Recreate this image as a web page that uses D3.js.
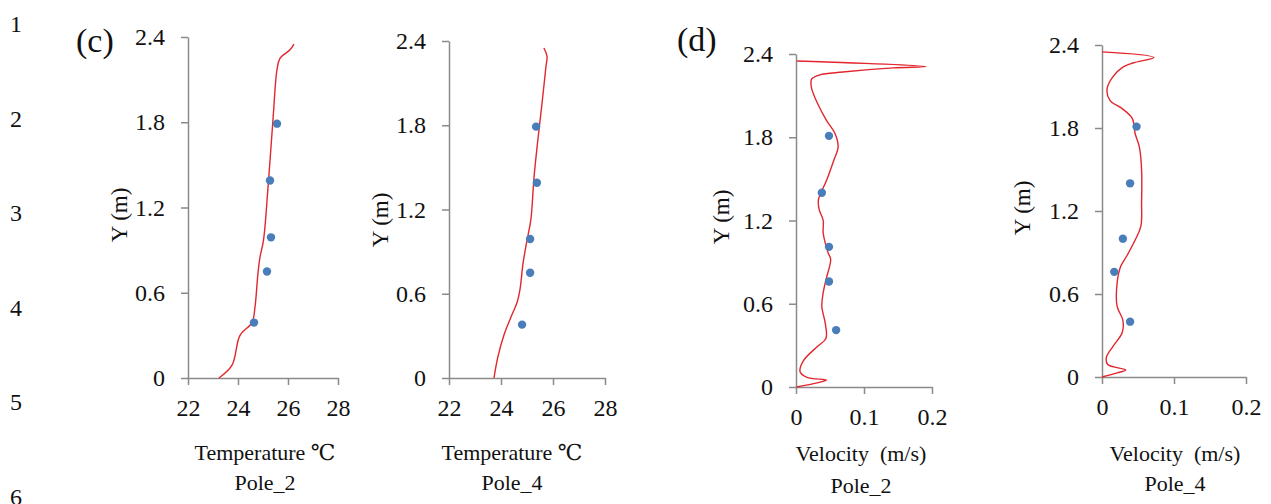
<!DOCTYPE html>
<html>
<head>
<meta charset="utf-8">
<script src="https://cdn.jsdelivr.net/npm/d3@7"></script>
<style>
  body { margin: 0; background: #fff; }
  .axis path, .axis line { stroke: #8a8a8a; stroke-width: 1.5; }
</style>
</head>
<body>
<div id="chart-container"></div>
<script>
const serif = "'Liberation Serif', 'DejaVu Serif', serif";

// Line numbers down the left margin
const lineNumbers = ["1", "2", "3", "4", "5", "6"];

// Tick labels
const yTicks = [0, 0.6, 1.2, 1.8, 2.4];
const tempTicks = [22, 24, 26, 28];
const velTicks = [0, 0.1, 0.2];

// (c) Temperature, Pole_2 : simulated profile
const tempP2LineY = [0, 0.09, 0.30, 0.39, 0.50, 0.74, 0.85, 0.97, 1.34, 1.82, 2.17, 2.25, 2.31, 2.35];
const tempP2LineT = [23.24, 23.76, 24.08, 24.56, 24.68, 24.80, 24.88, 25.02, 25.20, 25.40, 25.56, 25.68, 26.08, 26.24];
// measured points
const tempP2DotY = [1.79, 1.39, 0.99, 0.75, 0.39];
const tempP2DotT = [25.56, 25.28, 25.32, 25.16, 24.64];

// (c) Temperature, Pole_4
const tempP4LineY = [0, 0.15, 0.31, 0.45, 0.54, 0.63, 0.82, 0.98, 1.13, 1.43, 1.70, 1.96, 2.22, 2.29, 2.35];
const tempP4LineT = [23.73, 23.88, 24.12, 24.42, 24.62, 24.73, 24.85, 25.00, 25.15, 25.27, 25.42, 25.58, 25.73, 25.77, 25.65];
const tempP4DotY = [1.79, 1.39, 0.99, 0.75, 0.38];
const tempP4DotT = [25.35, 25.38, 25.12, 25.12, 24.81];

// (d) Velocity, Pole_2
const velP2LineY = [2.35, 2.31, 2.30, 2.27, 2.25, 2.22, 2.19, 2.15, 2.05, 1.92, 1.83, 1.73, 1.64, 1.49, 1.35, 1.28, 1.20, 1.11, 0.97, 0.92, 0.79, 0.68, 0.58, 0.46, 0.35, 0.29, 0.19, 0.11, 0.07, 0.05, 0.03, 0];
const velP2LineV = [0.0015, 0.191, 0.143, 0.069, 0.035, 0.023, 0.022, 0.023, 0.031, 0.045, 0.057, 0.062, 0.056, 0.045, 0.033, 0.034, 0.040, 0.040, 0.047, 0.051, 0.045, 0.040, 0.038, 0.043, 0.044, 0.031, 0.011, 0.006, 0.016, 0.045, 0.031, 0.001];
const velP2DotY = [1.81, 1.40, 1.01, 0.76, 0.41];
const velP2DotV = [0.0485, 0.038, 0.0485, 0.0485, 0.059];

// (d) Velocity, Pole_4
const velP4LineY = [2.35, 2.31, 2.27, 2.24, 2.17, 2.08, 2.00, 1.94, 1.87, 1.76, 1.66, 1.50, 1.26, 1.09, 0.99, 0.88, 0.80, 0.68, 0.51, 0.41, 0.32, 0.22, 0.14, 0.09, 0.05, 0.03, 0];
const velP4LineV = [0, 0.072, 0.043, 0.029, 0.015, 0.007, 0.011, 0.028, 0.042, 0.046, 0.052, 0.055, 0.055, 0.054, 0.046, 0.035, 0.026, 0.021, 0.021, 0.029, 0.028, 0.015, 0.006, 0.008, 0.033, 0.021, 0];
const velP4DotY = [1.81, 1.40, 1.00, 0.76, 0.40];
const velP4DotV = [0.048, 0.039, 0.029, 0.017, 0.039];

const width = 1271;
const height = 504;

const svg = d3.select("#chart-container")
  .append("svg")
  .attr("width", width)
  .attr("height", height)
  .style("font-family", serif);

// Line numbers
svg.selectAll(".lineno")
  .data(lineNumbers)
  .enter()
  .append("text")
  .attr("x", 10)
  .attr("y", (d, i) => 32 + i * 94.5)
  .style("font-family", serif)
  .style("font-size", "24px")
  .attr("fill", "#111")
  .text(d => d);

// Panel layout (axis positions in pixels)
const panels = [
  { line: d3.zip(tempP2LineT, tempP2LineY), dots: d3.zip(tempP2DotT, tempP2DotY),
    x0: 188, x1: 338, y0: 378, y1: 37, domain: [22, 28], ticks: tempTicks, fmt: d3.format("d"),
    title: "Temperature \u2103", pole: "Pole_2", cx: 265, t1: 460, t2: 490, yx: 127, yy: 215,
    tag: "(c)", tagX: 76, tagY: 52 },
  { line: d3.zip(tempP4LineT, tempP4LineY), dots: d3.zip(tempP4DotT, tempP4DotY),
    x0: 449, x1: 605, y0: 378, y1: 41, domain: [22, 28], ticks: tempTicks, fmt: d3.format("d"),
    title: "Temperature \u2103", pole: "Pole_4", cx: 512, t1: 460, t2: 490, yx: 388, yy: 220 },
  { line: d3.zip(velP2LineV, velP2LineY), dots: d3.zip(velP2DotV, velP2DotY),
    x0: 796, x1: 932, y0: 387, y1: 54, domain: [0, 0.2], ticks: velTicks, fmt: d => d === 0 ? "0" : d3.format(".1f")(d),
    title: "Velocity  (m/s)", pole: "Pole_2", cx: 861, t1: 461, t2: 493, yx: 729, yy: 217,
    tag: "(d)", tagX: 677, tagY: 51 },
  { line: d3.zip(velP4LineV, velP4LineY), dots: d3.zip(velP4DotV, velP4DotY),
    x0: 1102, x1: 1246, y0: 377, y1: 45, domain: [0, 0.2], ticks: velTicks, fmt: d => d === 0 ? "0" : d3.format(".1f")(d),
    title: "Velocity  (m/s)", pole: "Pole_4", cx: 1175, t1: 461, t2: 491, yx: 1030, yy: 208 }
];

function styleTicks(g) {
  g.attr("font-family", serif);
  g.selectAll("text")
    .style("font-family", serif)
    .style("font-size", "24px")
    .attr("fill", "#111");
}

panels.forEach(p => {
  const x = d3.scaleLinear().domain(p.domain).range([p.x0, p.x1]);
  const y = d3.scaleLinear().domain([0, 2.4]).range([p.y0, p.y1]);

  // Axes
  svg.append("g")
    .attr("class", "axis")
    .attr("transform", `translate(0,${p.y0})`)
    .call(d3.axisBottom(x).tickValues(p.ticks).tickFormat(p.fmt).tickSize(7).tickSizeOuter(0).tickPadding(14))
    .call(styleTicks);

  svg.append("g")
    .attr("class", "axis")
    .attr("transform", `translate(${p.x0},0)`)
    .call(d3.axisLeft(y).tickValues(yTicks).tickFormat(d => d === 0 ? "0" : d3.format(".1f")(d)).tickSize(7).tickSizeOuter(0).tickPadding(16))
    .call(styleTicks);

  // Simulated profile
  svg.append("path")
    .datum(p.line)
    .attr("fill", "none")
    .attr("stroke", "#e2262e")
    .attr("stroke-width", 1.4)
    .attr("d", d3.line().x(d => x(d[0])).y(d => y(d[1])).curve(d3.curveCatmullRom.alpha(0.5)));

  // Measured points
  svg.selectAll(null)
    .data(p.dots)
    .enter()
    .append("circle")
    .attr("cx", d => x(d[0]))
    .attr("cy", d => y(d[1]))
    .attr("r", 4.2)
    .attr("fill", "#4a7ebb");

  // Titles
  svg.append("text")
    .attr("x", p.cx)
    .attr("y", p.t1)
    .attr("text-anchor", "middle")
    .attr("fill", "#111")
    .style("font-family", serif)
    .style("font-size", "22px")
    .style("white-space", "pre")
    .text(p.title);

  svg.append("text")
    .attr("x", p.cx)
    .attr("y", p.t2)
    .attr("text-anchor", "middle")
    .attr("fill", "#111")
    .style("font-family", serif)
    .style("font-size", "22px")
    .text(p.pole);

  svg.append("text")
    .attr("transform", `translate(${p.yx},${p.yy}) rotate(-90)`)
    .attr("text-anchor", "middle")
    .attr("fill", "#111")
    .style("font-family", serif)
    .style("font-size", "23px")
    .text("Y (m)");

  if (p.tag) {
    svg.append("text")
      .attr("x", p.tagX)
      .attr("y", p.tagY)
      .attr("fill", "#111")
      .style("font-family", serif)
      .style("font-size", "34px")
      .text(p.tag);
  }
});
</script>
</body>
</html>
